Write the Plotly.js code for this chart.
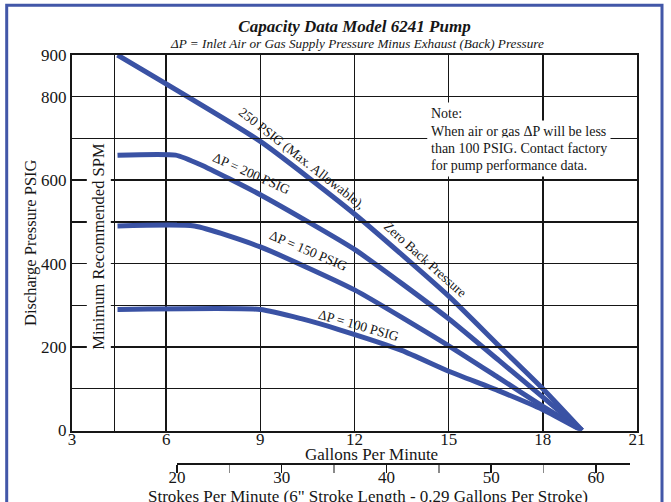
<!DOCTYPE html>
<html>
<head>
<meta charset="utf-8">
<script src="https://cdn.plot.ly/plotly-3.0.1.min.js"></script>
<style>html,body{margin:0;padding:0;background:#fff;}#chart{width:671px;height:502px;}</style>
</head>
<body>
<div id="chart"></div>
<script>
// ---- Data ----
const gpm250 = [4.45, 9, 12, 15, 16.6, 18, 19.25];
const psi250 = [900, 693, 519, 322, 203, 100, 0];

const gpm200 = [4.45, 6.3, 7.1, 9, 12, 15, 16.6, 18, 19.25];
const psi200 = [660, 660, 637, 565, 434, 268, 168, 80, 0];

const gpm150 = [4.45, 6.9, 9, 12, 15, 16.6, 18, 19.25];
const psi150 = [490, 490, 440, 337, 203, 126, 58, 0];

const gpm100 = [4.45, 9, 10.3, 11.5, 13.5, 15, 16.6, 18, 19.25];
const psi100 = [290, 290, 268, 242, 192, 142, 95, 50, 0];

const gpmTicks = [3, 6, 9, 12, 15, 18, 21];
const psiTicks = [0, 200, 400, 600, 800, 900];
const psiGridExtra = [100, 300, 500, 700];
const minSpmGpm = [4.35];
const spmTicks = [20, 30, 40, 50, 60];
const spmMinor = [25, 35, 45, 55];
const spmRange = [20, 63.25];

const titleText = "Capacity Data Model 6241 Pump";
const subtitleText = "ΔP = Inlet Air or Gas Supply Pressure Minus Exhaust (Back) Pressure";
const curveLabels = ["250 PSIG (Max. Allowable),", "Zero Back Pressure", "ΔP = 200 PSIG", "ΔP = 150 PSIG", "ΔP = 100 PSIG"];
const noteLines = ["Note:", "When air or gas ΔP will be less", "than 100 PSIG. Contact factory", "for pump performance data."];

// ---- Styling ----
const serif = "Liberation Serif, Times New Roman, serif";
const ink = "#161616";
const blue = "#3a52a4";

function curve(x, y) {
  return {x: x, y: y, type: "scatter", mode: "lines", xaxis: "x", yaxis: "y",
          line: {color: blue, width: 5, shape: "spline", smoothing: 0.5},
          hoverinfo: "skip", showlegend: false};
}

const traces = [
  curve(gpm250, psi250),
  curve(gpm200, psi200),
  curve(gpm150, psi150),
  curve(gpm100, psi100),
  {x: spmRange, y: [null, null], type: "scatter", mode: "lines", xaxis: "x2", yaxis: "y",
   hoverinfo: "skip", showlegend: false}
];

const W = 671, H = 502;
const mL = 72, mR = 34, mT = 55, mB = 39;
const pw = W - mL - mR, ph = H - mT - mB;
const px2paperX = p => (p - mL) / pw;
const py2paperY = p => (H - mB - p) / ph;

const annotations = [];
// subtitle
annotations.push({text: "<i>" + subtitleText + "</i>", xref: "paper", yref: "paper", x: px2paperX(357), y: py2paperY(43),
  xanchor: "center", yanchor: "middle", showarrow: false, font: {family: serif, size: 13.2, color: ink}});
// curve labels: [x, y, angle]
const labelPos = [[10.33, 652, 38], [14.25, 409, 42], [8.72, 616, 24], [10.52, 432, 23], [12.14, 251, 16]];
curveLabels.forEach((t, i) => {
  annotations.push({text: t, x: labelPos[i][0], y: labelPos[i][1], xref: "x", yref: "y",
    textangle: labelPos[i][2], showarrow: false, font: {family: serif, size: 13.5, color: ink}});
});
// note
const noteY = [113, 131, 148, 165];
noteLines.forEach((t, i) => {
  annotations.push({text: t, xref: "paper", yref: "paper", x: px2paperX(427), y: py2paperY(noteY[i]),
    xanchor: "left", yanchor: "middle", showarrow: false, bgcolor: "#ffffff", borderpad: 3,
    font: {family: serif, size: 14, color: ink}});
});
// minimum SPM label
annotations.push({text: "Minimum Recommended SPM", x: 3.86, y: 443, xref: "x", yref: "y",
  textangle: -90, showarrow: false, bgcolor: "#ffffff", borderpad: 2,
  font: {family: serif, size: 16.5, color: ink}});
// axis titles
annotations.push({text: "Gallons Per Minute", xref: "paper", yref: "paper", x: px2paperX(371), y: py2paperY(454),
  xanchor: "center", yanchor: "middle", showarrow: false, font: {family: serif, size: 17, color: ink}});
annotations.push({text: "Strokes Per Minute (6\" Stroke Length - 0.29 Gallons Per Stroke)", xref: "paper", yref: "paper",
  x: px2paperX(368), y: py2paperY(497), xanchor: "center", yanchor: "middle", showarrow: false,
  font: {family: serif, size: 17, color: ink}});

const layout = {
  width: W, height: H,
  margin: {l: mL, r: mR, t: mT, b: mB, pad: 0},
  paper_bgcolor: "#ffffff", plot_bgcolor: "rgba(0,0,0,0)",
  font: {family: serif, color: ink},
  title: {text: "<b><i>" + titleText + "</i></b>", font: {family: serif, size: 17, color: ink},
    x: 0.5, xref: "paper", xanchor: "center", y: 1 - 26 / H, yref: "container", yanchor: "middle"},
  xaxis: {range: [3, 21], tickvals: gpmTicks, ticktext: gpmTicks.map(String), anchor: "y",
    showgrid: true, gridcolor: ink, gridwidth: 1.4, zeroline: false,
    showline: true, linecolor: ink, linewidth: 2, mirror: true, ticks: "", ticklabelstandoff: -8,
    tickfont: {family: serif, size: 17, color: ink},
    minor: {tickvals: minSpmGpm, showgrid: true, gridcolor: ink, gridwidth: 1.4, ticks: ""}},
  yaxis: {range: [0, 900], domain: [(H - mB - 430.5) / ph, 1], tickvals: psiTicks, ticktext: psiTicks.map(String),
    anchor: "x", showgrid: true, gridcolor: ink, gridwidth: 1.4, zeroline: false,
    showline: true, linecolor: ink, linewidth: 2, mirror: true, ticks: "",
    tickfont: {family: serif, size: 17, color: ink},
    title: {text: "Discharge Pressure PSIG", font: {family: serif, size: 16.5, color: ink}, standoff: 0},
    minor: {tickvals: psiGridExtra, showgrid: true, gridcolor: ink, gridwidth: 1.4, ticks: ""}},
  xaxis2: {range: spmRange, domain: [px2paperX(177), px2paperX(630)], anchor: "free", position: 0,
    tickvals: spmTicks, ticktext: spmTicks.map(String), ticks: "outside", ticklen: 8, tickwidth: 1.5, tickcolor: ink,
    ticklabelstandoff: -10,
    showline: true, linecolor: ink, linewidth: 1.5, showgrid: false, zeroline: false,
    tickfont: {family: serif, size: 17, color: ink},
    minor: {tickvals: spmMinor, ticks: "outside", ticklen: 8, tickwidth: 1.5, tickcolor: "#8a8a8a", showgrid: false}},
  shapes: [{type: "rect", xref: "paper", yref: "paper",
    x0: px2paperX(6.7), x1: px2paperX(662), y0: py2paperY(520), y1: py2paperY(5.3),
    line: {color: "#4257a8", width: 3}, fillcolor: "rgba(0,0,0,0)", layer: "above"}],
  annotations: annotations,
  showlegend: false
};

Plotly.newPlot("chart", traces, layout, {displayModeBar: false, staticPlot: true});
</script>
</body>
</html>
